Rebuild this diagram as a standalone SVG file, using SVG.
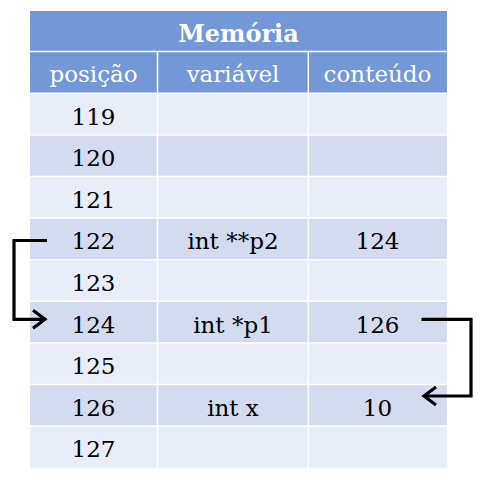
<svg xmlns="http://www.w3.org/2000/svg" width="482" height="487" viewBox="0 0 482 487">
<style>
.hdr{fill:#7398D7}
.ra{fill:#E9EDF7}
.rb{fill:#D4DBEF}
.sep{stroke:#FFFFFF;stroke-width:1.5}
text{font-family:"DejaVu Serif","Liberation Serif",serif;font-size:23px;text-anchor:middle;fill:#000}
.ht{fill:#FFFFFF}
.tt{fill:#FFFFFF;font-weight:bold;font-size:24px}
.conn{fill:none;stroke:#000;stroke-width:3.2;stroke-linejoin:miter}
</style>
<defs>
<marker id="ah" markerUnits="userSpaceOnUse" markerWidth="24" markerHeight="24" refX="16" refY="12" orient="auto">
<polyline points="4,3 16,12 4,21" fill="none" stroke="#000" stroke-width="3.2"/>
</marker>
</defs>
<rect width="482" height="487" fill="#FFFFFF"/>
<g id="title">
<rect class="hdr" x="30" y="11" width="417" height="40.5"/>
<text class="tt" x="238.5" y="41.5">Memória</text>
</g>
<g id="header">
<rect class="hdr" x="30" y="51.5" width="417" height="41.8"/>
<text class="ht" x="93.5" y="82">posição</text>
<text class="ht" x="233" y="82">variável</text>
<text class="ht" x="377.5" y="82">conteúdo</text>
</g>
<g id="rows">
<rect class="ra" x="30" y="93.3" width="417" height="41.6"/>
<rect class="rb" x="30" y="134.9" width="417" height="41.6"/>
<rect class="ra" x="30" y="176.5" width="417" height="41.6"/>
<rect class="rb" x="30" y="218.1" width="417" height="41.6"/>
<rect class="ra" x="30" y="259.7" width="417" height="41.6"/>
<rect class="rb" x="30" y="301.3" width="417" height="41.6"/>
<rect class="ra" x="30" y="342.9" width="417" height="41.6"/>
<rect class="rb" x="30" y="384.5" width="417" height="41.6"/>
<rect class="ra" x="30" y="426.1" width="417" height="41.6"/>
</g>
<g id="gridlines">
<line class="sep" x1="30" y1="51.5" x2="447" y2="51.5"/>
<line class="sep" x1="30" y1="93.3" x2="447" y2="93.3"/>
<line class="sep" x1="30" y1="134.9" x2="447" y2="134.9"/>
<line class="sep" x1="30" y1="176.5" x2="447" y2="176.5"/>
<line class="sep" x1="30" y1="218.1" x2="447" y2="218.1"/>
<line class="sep" x1="30" y1="259.7" x2="447" y2="259.7"/>
<line class="sep" x1="30" y1="301.3" x2="447" y2="301.3"/>
<line class="sep" x1="30" y1="342.9" x2="447" y2="342.9"/>
<line class="sep" x1="30" y1="384.5" x2="447" y2="384.5"/>
<line class="sep" x1="30" y1="426.1" x2="447" y2="426.1"/>
<line class="sep" x1="157.5" y1="51.5" x2="157.5" y2="467.7"/>
<line class="sep" x1="308.3" y1="51.5" x2="308.3" y2="467.7"/>
</g>
<g id="cells">
<text x="93.5" y="124.5">119</text>
<text x="93.5" y="166.1">120</text>
<text x="93.5" y="207.7">121</text>
<g id="row122">
<text x="93.5" y="249.3">122</text>
<text x="233" y="249.3">int **p2</text>
<text x="377.5" y="249.3">124</text>
</g>
<text x="93.5" y="290.9">123</text>
<g id="row124">
<text x="93.5" y="332.5">124</text>
<text x="233" y="332.5">int *p1</text>
<text x="377.5" y="332.5">126</text>
</g>
<text x="93.5" y="374.1">125</text>
<g id="row126">
<text x="93.5" y="415.7">126</text>
<text x="233" y="415.7">int x</text>
<text x="377.5" y="415.7">10</text>
</g>
<text x="93.5" y="457.3">127</text>
</g>
<g id="connectors">
<path class="conn" d="M47,240.5 H14 V319.3 H45" marker-end="url(#ah)"/>
<path class="conn" d="M421.5,319.3 H471 V396 H424" marker-end="url(#ah)"/>
</g>
</svg>
